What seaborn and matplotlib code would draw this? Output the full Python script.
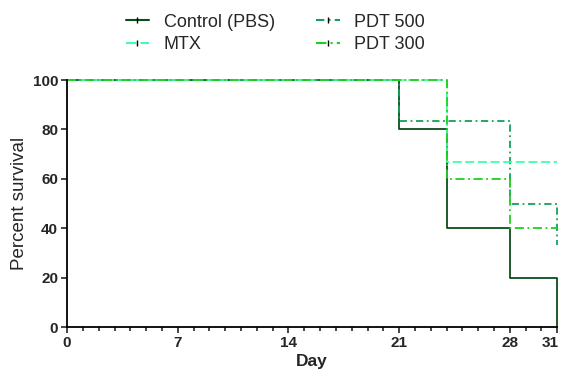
import numpy as np
import pandas as pd
import matplotlib
matplotlib.use('Agg')
import matplotlib.pyplot as plt
import matplotlib.transforms as mtransforms
from matplotlib.lines import Line2D
from matplotlib.ticker import MultipleLocator
import seaborn as sns

# ── data (Kaplan-Meier steps) ────────────────────────────────────────────────
groups = ['Control (PBS)', 'MTX', 'PDT 500', 'PDT 300']
control_days = [0, 21, 24, 28, 31]
control_surv = [100, 80, 40, 20, 0]
mtx_days = [0, 24, 31]
mtx_surv = [100, 66.7, 66.7]
pdt500_days = [0, 21, 28, 31]
pdt500_surv = [100, 83.3, 50, 33.3]
pdt300_days = [0, 24, 28, 31]
pdt300_surv = [100, 60, 40, 40]
x_ticks = [0, 7, 14, 21, 28, 31]
y_ticks = [0, 20, 40, 60, 80, 100]

frames = []
for g, d, s in zip(groups,
                   [control_days, mtx_days, pdt500_days, pdt300_days],
                   [control_surv, mtx_surv, pdt500_surv, pdt300_surv]):
    frames.append(pd.DataFrame({'Day': d, 'Survival': s, 'Group': g}))
df = pd.concat(frames, ignore_index=True)

colors = {'Control (PBS)': '#0b4d1a', 'MTX': '#3dffb0',
          'PDT 500': '#12a05a', 'PDT 300': '#1ed01e'}
dashes = {'Control (PBS)': (None, None), 'MTX': (5, 2),
          'PDT 500': (4, 2, 1, 2), 'PDT 300': (5, 2, 1, 2)}
draw_order = ['Control (PBS)', 'PDT 500', 'MTX', 'PDT 300']

# ── plot ──────────────────────────────────────────────────────────────────────
sns.set_style('ticks')
plt.rcParams['font.family'] = ['Liberation Sans', 'DejaVu Sans']

fig = plt.figure(figsize=(5.64, 3.76), dpi=100)
ax = fig.add_axes([0.119, 0.130, 0.869, 0.657])

for g in draw_order:
    sub = df[df['Group'] == g]
    sns.lineplot(data=sub, x='Day', y='Survival', ax=ax,
                 color=colors[g], linewidth=1.3,
                 drawstyle='steps-post', estimator=None,
                 legend=False, clip_on=False)
    l = ax.lines[-1]
    if dashes[g][0] is not None:
        l.set_dashes(dashes[g])

ax.set_xlim(0, 31)
ax.set_ylim(0, 100)
ax.set_xticks(x_ticks)
ax.set_yticks(y_ticks)
ax.xaxis.set_minor_locator(MultipleLocator(1))
ax.tick_params(axis='both', which='major', length=4.5, width=1.2,
               labelsize=11, pad=2)
ax.tick_params(axis='x', which='minor', length=3, width=1.2)
for lab in ax.get_xticklabels() + ax.get_yticklabels():
    lab.set_fontweight('bold')
# keep "31" inside the figure, nudged left like the original
last = ax.get_xticklabels()[-1]
last.set_transform(last.get_transform() +
                   mtransforms.ScaledTranslation(-5 / 72, 0, fig.dpi_scale_trans))
for sp in ['left', 'bottom']:
    ax.spines[sp].set_linewidth(1.3)
    ax.spines[sp].set_color('black')
sns.despine(ax=ax)

ax.set_xlabel('Day', fontsize=12.5, fontweight='bold', labelpad=3)
ax.set_ylabel('Percent survival', fontsize=13.5, labelpad=3)

handles = []
for g in groups:
    h = Line2D([0], [0], color=colors[g], linewidth=1.5,
               marker='|', markersize=5, markeredgecolor='black',
               markeredgewidth=1)
    if dashes[g][0] is not None:
        h.set_dashes(dashes[g])
    handles.append(h)
fig.legend(handles, groups, ncol=2, loc='upper center',
           bbox_to_anchor=(0.488, 1.0), frameon=False, fontsize=13,
           handlelength=1.3, handletextpad=0.8, columnspacing=2.3,
           labelspacing=0.3, borderaxespad=0.35)

plt.savefig('out.png', dpi=100)
plt.close()
